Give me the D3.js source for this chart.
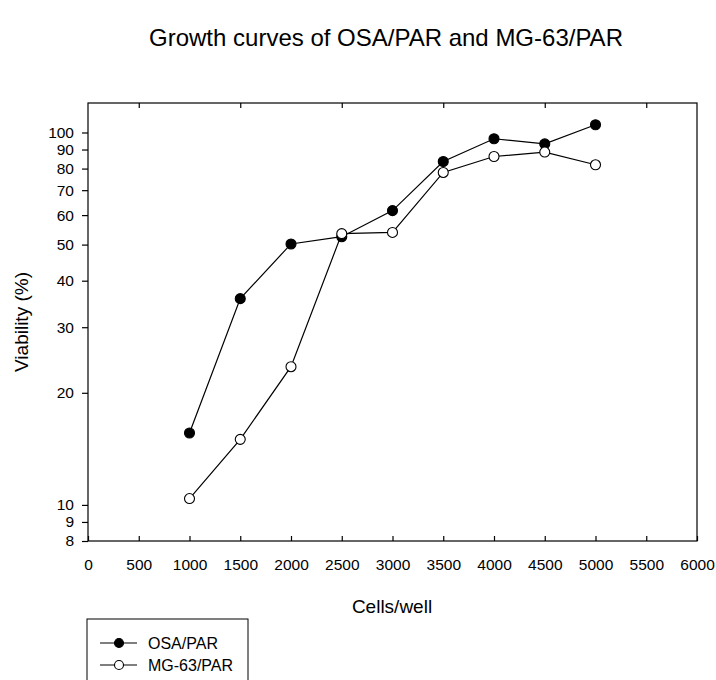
<!DOCTYPE html>
<html>
<head>
<meta charset="utf-8">
<script src="https://cdn.jsdelivr.net/npm/d3@7"></script>
<style>
  html, body { margin: 0; padding: 0; background: #fff; }
  svg { display: block; font-family: "Liberation Sans", Arial, sans-serif; }
</style>
</head>
<body>
<svg id="chart" width="716" height="680"></svg>
<script>
const cells = [1000, 1500, 2000, 2500, 3000, 3500, 4000, 4500, 5000];
const osaPar = [15.6, 35.8, 50.2, 52.5, 61.7, 83.6, 96.2, 93.2, 104.9];
const mg63Par = [10.4, 15.0, 23.5, 53.5, 53.9, 78.1, 86.2, 88.6, 81.9];
const xTicks = [0, 500, 1000, 1500, 2000, 2500, 3000, 3500, 4000, 4500, 5000, 5500, 6000];
const xTopTicks = [500, 1500, 2500, 3500, 4500, 5500];
const yTicks = [8, 9, 10, 20, 30, 40, 50, 60, 70, 80, 90, 100];
const seriesNames = ["OSA/PAR", "MG-63/PAR"];

(function () {
const svg = d3.select("#chart");
const pL = 88, pR = 697, pT = 103, pB = 541;
const FONT = "Liberation Sans, Arial, sans-serif";

const x = d3.scaleLinear().domain([0, 6000]).range([pL, pR]);
const y = d3.scaleLog().domain([8, 120]).range([pB, pT]);

// title
svg.append("text").attr("x", 386).attr("y", 46).attr("text-anchor", "middle")
  .attr("font-size", 24).text("Growth curves of OSA/PAR and MG-63/PAR");

// frame
svg.append("rect").attr("x", pL).attr("y", pT).attr("width", pR - pL).attr("height", pB - pT)
  .attr("fill", "none").attr("stroke", "#000").attr("stroke-width", 1.2);

// bottom axis (ticks inward)
const xb = svg.append("g").attr("transform", `translate(0,${pB})`)
  .call(d3.axisBottom(x).tickValues(xTicks).tickSize(-5).tickPadding(18).tickFormat(d3.format("d")));
xb.select(".domain").remove();
xb.selectAll("text").attr("font-size", 15.5).attr("font-family", FONT);
xb.selectAll("line").attr("stroke-width", 1.2);

// top axis ticks (inward)
const xt = svg.append("g").attr("transform", `translate(0,${pT})`)
  .call(d3.axisTop(x).tickValues(xTopTicks).tickSize(-5).tickFormat(""));
xt.select(".domain").remove();
xt.selectAll("line").attr("stroke-width", 1.2);

// left axis (ticks outward)
const yl = svg.append("g").attr("transform", `translate(${pL},0)`)
  .call(d3.axisLeft(y).tickValues(yTicks).tickSize(6).tickPadding(8).tickFormat(d3.format("d")));
yl.select(".domain").remove();
yl.selectAll("text").attr("font-size", 15.5).attr("font-family", FONT);
yl.selectAll("line").attr("stroke-width", 1.2);

// axis titles
svg.append("text").attr("x", 392).attr("y", 613).attr("text-anchor", "middle")
  .attr("font-size", 19).text("Cells/well");
svg.append("text").attr("transform", "translate(28,322) rotate(-90)").attr("text-anchor", "middle")
  .attr("font-size", 19).text("Viability (%)");

const line = d3.line().x(d => x(d[0])).y(d => y(d[1]));
const datasets = [
  { name: seriesNames[0], values: osaPar, fill: "#000" },
  { name: seriesNames[1], values: mg63Par, fill: "#fff" }
];

datasets.slice().reverse().forEach(s => {
  const pts = cells.map((c, i) => [c, s.values[i]]);
  svg.append("path").datum(pts).attr("d", line).attr("fill", "none")
    .attr("stroke", "#000").attr("stroke-width", 1.2);
});
datasets.forEach(s => {
  const pts = cells.map((c, i) => [c, s.values[i]]);
  svg.selectAll(null).data(pts).enter().append("circle")
    .attr("cx", d => x(d[0])).attr("cy", d => y(d[1])).attr("r", 5)
    .attr("fill", s.fill).attr("stroke", "#000").attr("stroke-width", 1.1);
});

// legend
const lg = svg.append("g");
lg.append("rect").attr("x", 87).attr("y", 619).attr("width", 161).attr("height", 80)
  .attr("fill", "none").attr("stroke", "#000").attr("stroke-width", 1);
datasets.forEach((s, i) => {
  const ly = 643 + i * 22;
  lg.append("line").attr("x1", 100).attr("x2", 137).attr("y1", ly).attr("y2", ly)
    .attr("stroke", "#000").attr("stroke-width", 1.2);
  lg.append("circle").attr("cx", 119).attr("cy", ly).attr("r", 4.5)
    .attr("fill", s.fill).attr("stroke", "#000").attr("stroke-width", 1.1);
  lg.append("text").attr("x", 148).attr("y", ly + 5.5).attr("font-size", 16).text(s.name);
});
})();
</script>
</body>
</html>
